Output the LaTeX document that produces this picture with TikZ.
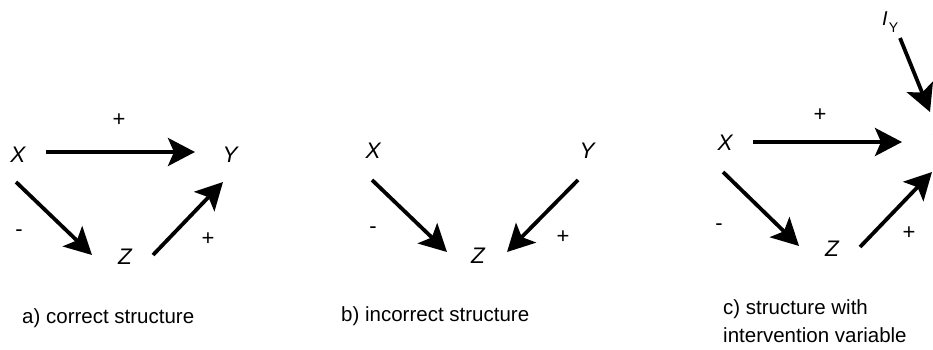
\documentclass[tikz,border=0pt]{standalone}
\usepackage{fontspec}
\setmainfont{Liberation Sans}
\usetikzlibrary{arrows.meta}
\tikzset{
  var/.style={inner sep=0pt, font=\fontsize{22.5}{26}\selectfont\itshape},
  sign/.style={inner sep=0pt, font=\fontsize{22}{24}\selectfont},
  caption/.style={inner sep=0pt, anchor=west, align=left, font=\fontsize{20.5}{28}\selectfont},
  causal/.style={line width=3.8pt, -{Stealth[length=27pt,width=28pt,inset=6pt]}},
}
\begin{document}
\begin{tikzpicture}[x=1pt,y=-1pt]
\useasboundingbox (0,0) rectangle (933,350);
\clip (0,0) rectangle (933,350);
% panel a
\node[var] (aX) at (18,155) {X};
\node[var] (aY) at (230,155) {Y};
\node[var] (aZ) at (125,257) {Z};
\coordinate (aXYs) at (46,152);  \coordinate (aXYe) at (195,152);
\coordinate (aXZs) at (16,182);  \coordinate (aXZe) at (92,255);
\coordinate (aZYs) at (153,255); \coordinate (aZYe) at (223,182);
\draw[causal] (aXYs) -- (aXYe);
\draw[causal] (aXZs) -- (aXZe);
\draw[causal] (aZYs) -- (aZYe);
\node[sign] (aP1) at (119,120) {+};
\node[sign] (aM1) at (19,233) {-};
\node[sign] (aP2) at (208,239) {+};
\node[caption] (aCap) at (22,318) {a) correct structure};
% panel b
\node[var] (bX) at (373,151) {X};
\node[var] (bY) at (587,151) {Y};
\node[var] (bZ) at (478,256) {Z};
\coordinate (bXZs) at (372,180); \coordinate (bXZe) at (447,252);
\coordinate (bYZs) at (578,180); \coordinate (bYZe) at (507,252);
\draw[causal] (bXZs) -- (bXZe);
\draw[causal] (bYZs) -- (bYZe);
\node[sign] (bM1) at (373,230) {-};
\node[sign] (bP1) at (563,237) {+};
\node[caption] (bCap) at (341,316) {b) incorrect structure};
% panel c
\node[var] (cX) at (725,143) {X};
\node[var] (cY) at (938,143) {Y};
\node[var] (cZ) at (832,249) {Z};
\node[inner sep=0pt, anchor=north west] (cI) at (882,12) {\fontsize{20}{24}\selectfont\itshape I\kern1pt\raisebox{-7pt}{\fontsize{14}{14}\selectfont\upshape Y}};
\coordinate (cIYs) at (900,38);  \coordinate (cIYe) at (930,112);
\coordinate (cXYs) at (753,142); \coordinate (cXYe) at (902,142);
\coordinate (cXZs) at (723,172); \coordinate (cXZe) at (799,246);
\coordinate (cZYs) at (860,247); \coordinate (cZYe) at (932,172);
\draw[causal] (cIYs) -- (cIYe);
\draw[causal] (cXYs) -- (cXYe);
\draw[causal] (cXZs) -- (cXZe);
\draw[causal] (cZYs) -- (cZYe);
\node[sign] (cP1) at (820,115) {+};
\node[sign] (cM1) at (719,227) {-};
\node[sign] (cP2) at (909,233) {+};
\node[caption] (cCap) at (723,321) {c) structure with\\intervention variable};
\end{tikzpicture}
\end{document}
